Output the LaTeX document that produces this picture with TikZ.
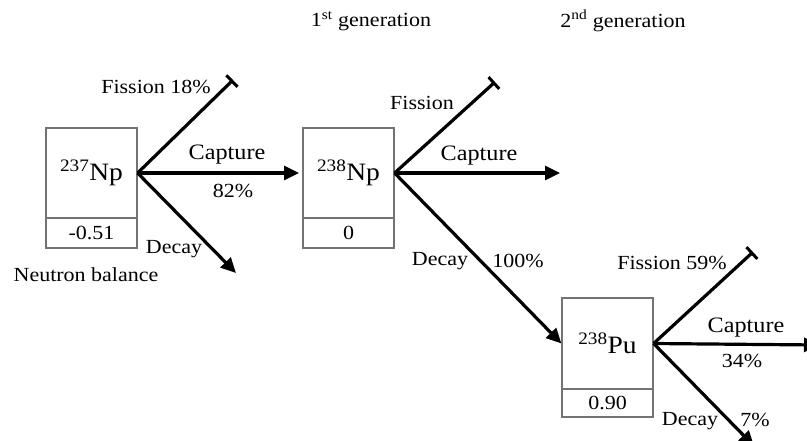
\documentclass[tikz,border=0pt]{standalone}
\usepackage{fontspec}
\setmainfont{Liberation Serif}[FakeStretch=1.1]
\usetikzlibrary{arrows.meta}
\tikzset{
  nuc/.style={draw=black!55, line width=1.2pt, minimum width=91pt, minimum height=90pt, inner sep=0pt, font=\fontsize{25}{27}\selectfont},
  bal/.style={draw=black!55, line width=1.2pt, minimum width=91pt, minimum height=30pt, inner sep=0pt, font=\fontsize{20}{22}\selectfont},
  lbl/.style={inner sep=0pt, font=\fontsize{20}{22}\selectfont},
  caplbl/.style={inner sep=0pt, font=\fontsize{22}{24}\selectfont},
  path/.style={line width=3.2pt},
  arr/.style={path, -{Triangle[length=15pt,width=14pt]}},
  stopbar/.style={path, -{Bar[width=16pt,line width=3pt]}}
}
\begin{document}
\begin{tikzpicture}[x=1pt,y=-1pt]
\clip (0,0) rectangle (807,440);
\fill[white] (0,0) rectangle (807,440);
% boxes
\node[nuc] (np237) at (91.5,173) {\textsuperscript{237}Np};
\node[bal] (np237b) at (91.5,233) {-0.51};
\node[nuc] (np238) at (348.5,173) {\textsuperscript{238}Np};
\node[bal] (np238b) at (348.5,233) {0};
\node[nuc, minimum height=91pt] (pu238) at (607.5,343.5) {\textsuperscript{238}Pu};
\node[bal, minimum height=28pt] (pu238b) at (607.5,403) {0.90};
% free ends
\coordinate (f1) at (233,80);
\coordinate (c1) at (299,173);
\coordinate (d1) at (236,273);
\coordinate (f2) at (495,82);
\coordinate (c2) at (560,173);
\coordinate (f3) at (753,252);
\coordinate (c3) at (819,345);
\coordinate (d3) at (754,446);
% connectors
\draw[stopbar] (np237.east) -- (f1);
\draw[arr] (np237.east) -- (c1);
\draw[arr] (np237.east) -- (d1);
\draw[stopbar] (np238.east) -- (f2);
\draw[arr] (np238.east) -- (c2);
\draw[arr] (np238.east) -- (pu238.west);
\draw[stopbar] (pu238.east) -- (f3);
\draw[arr] (pu238.east) -- (c3);
\draw[arr] (pu238.east) -- (d3);
% labels
\node[lbl] (t1) at (371,21) {1\textsuperscript{st} generation};
\node[lbl] (t2) at (623,21) {2\textsuperscript{nd} generation};
\node[lbl] (lf1) at (156,87) {Fission 18\%};
\node[caplbl] (lc1) at (227,155) {Capture};
\node[lbl] (lp1) at (233,191) {82\%};
\node[lbl] (ld1) at (174,249) {Decay};
\node[lbl] (nb) at (86,275) {Neutron balance};
\node[lbl] (lf2) at (422,103) {Fission};
\node[caplbl] (lc2) at (479,156) {Capture};
\node[lbl] (ld2) at (440,261) {Decay};
\node[lbl] (lp2) at (518,261) {100\%};
\node[lbl] (lf3) at (672,263) {Fission 59\%};
\node[caplbl] (lc3) at (746,328) {Capture};
\node[lbl] (lp3) at (742,361) {34\%};
\node[lbl] (ld3) at (690,421) {Decay};
\node[lbl] (lp4) at (755,420) {7\%};
\end{tikzpicture}
\end{document}
